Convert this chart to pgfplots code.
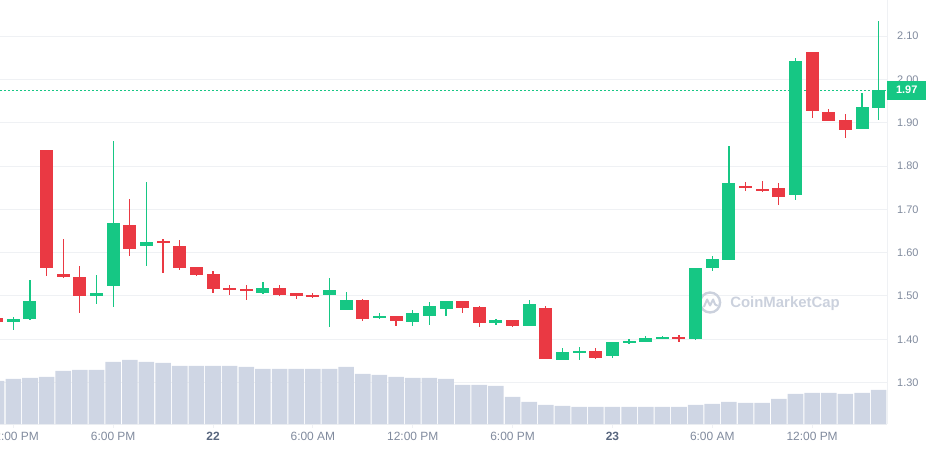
\documentclass[border=0pt]{standalone}
\usepackage{pgfplots}
\pgfplotsset{compat=1.18}
\usepackage{pgfplotstable}
\usepackage{fontspec}
\setmainfont{Liberation Sans}
\definecolor{up}{HTML}{16C784}
\definecolor{dn}{HTML}{EA3943}
\definecolor{vol}{HTML}{CFD6E4}
\definecolor{grd}{HTML}{EFF1F4}
\definecolor{lbl}{HTML}{808A9D}
\definecolor{dk}{HTML}{58667E}
\definecolor{wm}{HTML}{CBD1DD}

% hourly candles, t = hours after 12:00 PM on the 21st
\pgfplotstableread{
t o h l c
0 1.439 1.452 1.422 1.447
1 1.448 1.537 1.445 1.489
5 1.501 1.549 1.482 1.507
6 1.524 1.857 1.475 1.668
8 1.616 1.763 1.569 1.625
15 1.508 1.532 1.505 1.518
19 1.502 1.542 1.429 1.514
20 1.468 1.509 1.468 1.491
22 1.449 1.461 1.447 1.454
24 1.440 1.468 1.431 1.461
25 1.454 1.486 1.433 1.477
26 1.470 1.489 1.454 1.489
29 1.438 1.447 1.433 1.445
31 1.431 1.491 1.431 1.482
33 1.352 1.380 1.352 1.371
34 1.369 1.382 1.352 1.373
36 1.362 1.394 1.357 1.394
37 1.392 1.401 1.389 1.396
38 1.394 1.408 1.394 1.403
39 1.401 1.408 1.401 1.405
41 1.401 1.565 1.399 1.565
42 1.565 1.592 1.558 1.585
43 1.583 1.846 1.583 1.761
47 1.733 2.049 1.722 2.042
51 1.885 1.969 1.885 1.936
52 1.934 2.135 1.906 1.975
}\upT

\pgfplotstableread{
t o h l c
-1 1.450 1.452 1.437 1.439
2 1.837 1.837 1.545 1.565
3 1.551 1.632 1.542 1.545
4 1.544 1.569 1.461 1.499
7 1.664 1.724 1.593 1.608
9 1.627 1.632 1.552 1.622
10 1.615 1.629 1.561 1.565
11 1.567 1.567 1.545 1.549
12 1.551 1.558 1.508 1.517
13 1.519 1.525 1.503 1.515
14 1.516 1.525 1.491 1.512
16 1.519 1.525 1.500 1.503
17 1.507 1.507 1.492 1.501
18 1.503 1.507 1.496 1.499
21 1.491 1.493 1.442 1.447
23 1.454 1.454 1.431 1.442
27 1.489 1.489 1.461 1.472
28 1.475 1.477 1.429 1.438
30 1.445 1.445 1.429 1.431
32 1.472 1.477 1.355 1.355
35 1.373 1.380 1.355 1.357
40 1.405 1.410 1.394 1.401
44 1.754 1.763 1.742 1.749
45 1.747 1.765 1.740 1.742
46 1.749 1.761 1.710 1.729
48 2.063 2.063 1.911 1.927
49 1.925 1.932 1.904 1.904
50 1.906 1.920 1.865 1.883
}\dnT

% relative volume
\pgfplotstableread{
t v
-1 43
0 45
1 46
2 47
3 53
4 54
5 54
6 62
7 64
8 62
9 61
10 58
11 58
12 58
13 58
14 57
15 55
16 55
17 55
18 55
19 55
20 57
21 50
22 49
23 47
24 46
25 46
26 45
27 39
28 39
29 38
30 27
31 22
32 19
33 18
34 17
35 17
36 17
37 17
38 17
39 17
40 17
41 19
42 20
43 22
44 21
45 21
46 25
47 30
48 31
49 31
50 30
51 31
52 34
}\volT

\begin{document}
\begin{tikzpicture}
\clip (0,-26bp) rectangle (929bp,424bp);
\begin{axis}[
  at={(0,0)}, anchor=south west,
  scale only axis, width=887bp, height=424bp,
  xmin=-0.8, xmax=52.5, ymin=1.2046, ymax=2.1831,
  clip=false,
  axis x line*=bottom, axis y line*=right,
  axis line style={draw=grd, line width=1bp},
  ytick={1.3,1.4,1.5,1.6,1.7,1.8,1.9,2.0,2.1},
  ymajorgrids, grid style={draw=grd, line width=1bp},
  ytick style={draw=none},
  yticklabel style={font=\fontsize{11}{13}\selectfont, text=lbl, anchor=west, inner sep=0pt, xshift=6bp,
    /pgf/number format/.cd, fixed, fixed zerofill, precision=2, assume math mode=true},
  xtick={0,6,12,18,24,30,36,42,48},
  xticklabels={12:00 PM,6:00 PM,{\bfseries\color{dk}22},6:00 AM,12:00 PM,6:00 PM,{\bfseries\color{dk}23},6:00 AM,12:00 PM},
  xticklabel style={font=\fontsize{12}{14}\selectfont, text=lbl, inner sep=0pt, yshift=-4bp},
  tick align=outside, major tick length=4bp,
  xtick style={draw=grd, line width=1bp},
]
% watermark
\coordinate (lg) at (axis cs:41.87,1.485);
\draw[wm, line width=2.4bp] (lg) circle[radius=10bp];
\draw[wm, line width=2bp, line join=round, line cap=round] (lg) ++(-6bp,-4bp) -- ++(3bp,7bp) -- ++(3bp,-6bp) -- ++(3bp,6bp) -- ++(2bp,-5bp) -- ++(2bp,-1bp);
\node[wm, anchor=west, font=\bfseries\fontsize{15}{18}\selectfont, inner sep=0pt] at (axis cs:43.07,1.482) {CoinMarketCap};
% current price line
\addplot[up, line width=1bp, dash pattern=on 2bp off 2bp, forget plot] coordinates {(-0.8,1.975) (52.5,1.975)};
% wicks
\addplot[draw=none, mark=none, forget plot, error bars/.cd, y dir=both, y explicit, error mark=none,
  error bar style={draw=up, line width=1.2bp}]
  table[x=t, y expr={(\thisrow{h}+\thisrow{l})/2}, y error expr={(\thisrow{h}-\thisrow{l})/2}] {\upT};
\addplot[draw=none, mark=none, forget plot, error bars/.cd, y dir=both, y explicit, error mark=none,
  error bar style={draw=dn, line width=1.2bp}]
  table[x=t, y expr={(\thisrow{h}+\thisrow{l})/2}, y error expr={(\thisrow{h}-\thisrow{l})/2}] {\dnT};
% bodies
\addplot[draw=none, mark=none, forget plot, error bars/.cd, y dir=both, y explicit, error mark=none,
  error bar style={draw=up, line width=13bp}]
  table[x=t, y expr={(\thisrow{o}+\thisrow{c})/2}, y error expr={abs(\thisrow{c}-\thisrow{o})/2}] {\upT};
\addplot[draw=none, mark=none, forget plot, error bars/.cd, y dir=both, y explicit, error mark=none,
  error bar style={draw=dn, line width=13bp}]
  table[x=t, y expr={(\thisrow{o}+\thisrow{c})/2}, y error expr={abs(\thisrow{c}-\thisrow{o})/2}] {\dnT};
\coordinate (pl) at (axis cs:52.5,1.975);
\end{axis}
\begin{axis}[
  at={(0,0)}, anchor=south west,
  scale only axis, width=887bp, height=424bp,
  xmin=-0.8, xmax=52.5, ymin=0, ymax=424,
  hide axis, clip=false,
]
\addplot[ybar, bar width=15.6bp, fill=vol, draw=none] table[x=t, y=v] {\volT};
\end{axis}
\node[fill=up, text=white, font=\bfseries\fontsize{11}{13}\selectfont, minimum width=39bp, minimum height=19bp, inner sep=0pt, anchor=west] at (pl) {1.97};
\end{tikzpicture}
\end{document}
